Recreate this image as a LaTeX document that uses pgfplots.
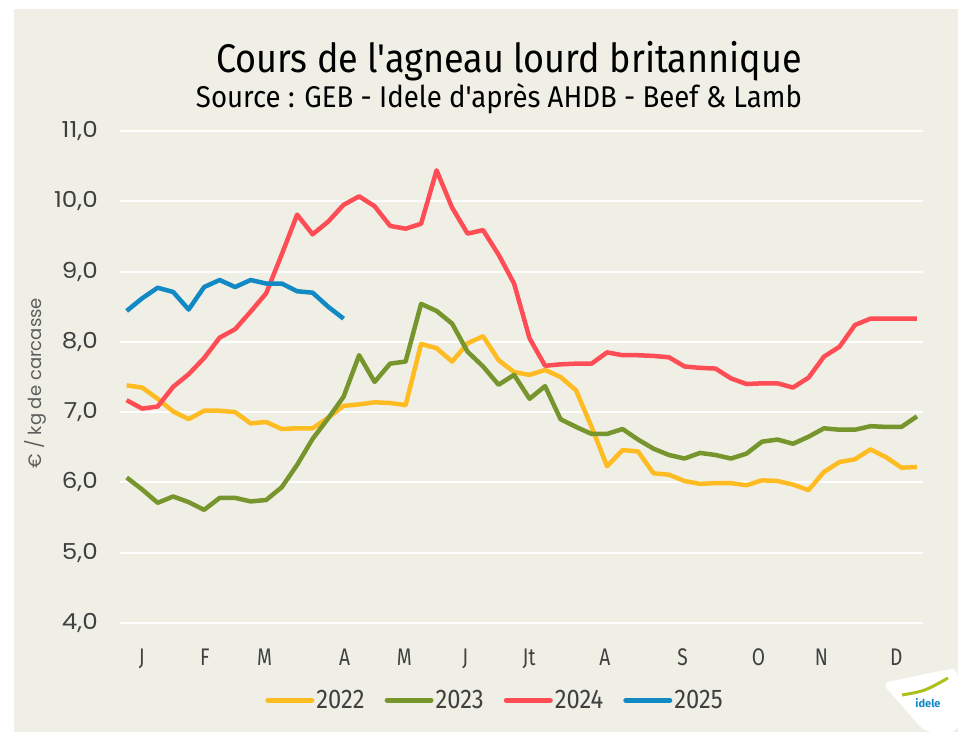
\documentclass[border=0pt]{standalone}
\usepackage{pgfplots}
\pgfplotsset{compat=1.18}
\usepackage{fontspec}
\setmainfont{Fira Sans}
\newfontfamily\titlefont{Fira Sans}[FakeStretch=0.90]
\newfontfamily\subfont{Fira Sans}[FakeStretch=0.92]
\newfontfamily\condfont{Fira Sans}[FakeStretch=0.80]
\newfontfamily\legfont{Fira Sans}[FakeStretch=0.88]
\newfontfamily\tickfont{Poppins}[FakeStretch=1.12]
\newfontfamily\labfont{Poppins}
\definecolor{bgc}{RGB}{239,239,230}
\definecolor{c22}{RGB}{255,187,34}
\definecolor{c23}{RGB}{119,149,45}
\definecolor{c24}{RGB}{255,77,85}
\definecolor{c25}{RGB}{16,137,196}
\definecolor{txt}{RGB}{64,64,64}
\begin{document}
\begin{tikzpicture}
\fill[white] (-120pt,-109pt) rectangle (838pt,623pt);
\fill[bgc] (-106pt,-109pt) rectangle (838pt,614pt);
\begin{axis}[
  at={(0pt,0pt)}, anchor=south west,
  scale only axis, width=803pt, height=492pt,
  xmin=0.57, xmax=52.39, ymin=4, ymax=11,
  axis line style={draw=none},
  major tick length=0pt,
  ytick={4,5,6,7,8,9,10,11},
  yticklabels={{4,0},{5,0},{6,0},{7,0},{8,0},{9,0},{10,0},{11,0}},
  yticklabel style={font=\tickfont\fontsize{22}{22}\selectfont, text=txt, anchor=east, inner sep=0pt, xshift=-22pt},
  ymajorgrids, major grid style={white, line width=2pt},
  extra y ticks={4}, extra y tick labels={},
  extra y tick style={grid style={draw=black!15, line width=2pt}},
  xtick={1.985,6.04,9.9,15.06,18.92,22.85,26.97,31.86,36.88,41.78,45.84,50.67},
  xticklabels={J,F,M,A,M,J,Jt,A,S,O,N,D},
  xticklabel style={font=\condfont\fontsize{24}{24}\selectfont, text=txt, anchor=base, inner sep=0pt, yshift=-42pt},
  clip=false,
  legend columns=4,
  legend style={at={(0.467,-0.157)}, anchor=center, draw=none, fill=none,
    font=\legfont\fontsize{27}{27}\selectfont, text=txt,
    /tikz/every even column/.append style={column sep=18pt}},
  legend image code/.code={\draw[#1, line width=5pt, line cap=round] (0pt,0pt) -- (44pt,0pt);},
  every axis plot/.append style={line width=4.5pt, line join=round, no markers},
]
\addplot[c22] coordinates {
(1,7.38)(2,7.35)(3,7.19)(4,7.01)(5,6.90)(6,7.02)(7,7.02)(8,7.00)(9,6.84)(10,6.86)
(11,6.76)(12,6.77)(13,6.77)(14,6.92)(15,7.09)(16,7.11)(17,7.14)(18,7.13)(19,7.10)(20,7.97)
(21,7.91)(22,7.72)(23,7.98)(24,8.08)(25,7.74)(26,7.57)(27,7.53)(28,7.60)(29,7.50)(30,7.31)
(31,6.79)(32,6.23)(33,6.46)(34,6.44)(35,6.13)(36,6.11)(37,6.02)(38,5.98)(39,5.99)(40,5.99)
(41,5.96)(42,6.03)(43,6.02)(44,5.97)(45,5.89)(46,6.15)(47,6.29)(48,6.33)(49,6.47)(50,6.36)
(51,6.21)(52,6.22)};
\addlegendentry{2022}
\addplot[c23] coordinates {
(1,6.07)(2,5.90)(3,5.71)(4,5.80)(5,5.72)(6,5.61)(7,5.78)(8,5.78)(9,5.73)(10,5.75)
(11,5.93)(12,6.25)(13,6.62)(14,6.91)(15,7.22)(16,7.81)(17,7.43)(18,7.69)(19,7.72)(20,8.54)
(21,8.44)(22,8.26)(23,7.86)(24,7.65)(25,7.39)(26,7.53)(27,7.19)(28,7.37)(29,6.90)(30,6.79)
(31,6.69)(32,6.69)(33,6.76)(34,6.61)(35,6.48)(36,6.39)(37,6.34)(38,6.42)(39,6.39)(40,6.34)
(41,6.41)(42,6.58)(43,6.61)(44,6.55)(45,6.65)(46,6.77)(47,6.75)(48,6.75)(49,6.80)(50,6.79)
(51,6.79)(52,6.94)};
\addlegendentry{2023}
\addplot[c24] coordinates {
(1,7.17)(2,7.05)(3,7.08)(4,7.36)(5,7.54)(6,7.77)(7,8.06)(8,8.18)(9,8.43)(10,8.69)
(11,9.24)(12,9.81)(13,9.53)(14,9.71)(15,9.95)(16,10.07)(17,9.93)(18,9.65)(19,9.61)(20,9.68)
(21,10.44)(22,9.91)(23,9.54)(24,9.59)(25,9.24)(26,8.83)(27,8.05)(28,7.66)(29,7.68)(30,7.69)
(31,7.69)(32,7.85)(33,7.81)(34,7.81)(35,7.80)(36,7.78)(37,7.65)(38,7.63)(39,7.62)(40,7.48)
(41,7.40)(42,7.41)(43,7.41)(44,7.35)(45,7.49)(46,7.79)(47,7.93)(48,8.24)(49,8.33)(50,8.33)
(51,8.33)(52,8.33)};
\addlegendentry{2024}
\addplot[c25] coordinates {
(1,8.44)(2,8.62)(3,8.77)(4,8.71)(5,8.46)(6,8.78)(7,8.88)(8,8.78)(9,8.88)(10,8.83)
(11,8.83)(12,8.72)(13,8.70)(14,8.50)(15,8.33)};
\addlegendentry{2025}
\end{axis}
\node[font=\titlefont\fontsize{40}{40}\selectfont, anchor=base] at (389pt,550pt) {Cours de l'agneau lourd britannique};
\node[font=\subfont\fontsize{30}{30}\selectfont, anchor=base] at (379pt,515pt) {Source : GEB - Idele d'après AHDB - Beef \& Lamb};
\node[font=\labfont\fontsize{18}{18}\selectfont, text=txt!85, rotate=90] at (-85pt,240pt) {€ / kg de carcasse};
\fill[white, rounded corners=8pt] (762pt,-60pt) -- (830pt,-46pt) -- (838pt,-46pt) -- (838pt,-109pt) -- (805pt,-109pt) -- cycle;
\node[font=\fontsize{11}{11}\selectfont\bfseries, text=c25] at (808pt,-80pt) {idele};
\draw[c23!60!yellow, line width=3pt] (782pt,-72pt) .. controls (805pt,-68pt) .. (828pt,-55pt);
\end{tikzpicture}
\end{document}
